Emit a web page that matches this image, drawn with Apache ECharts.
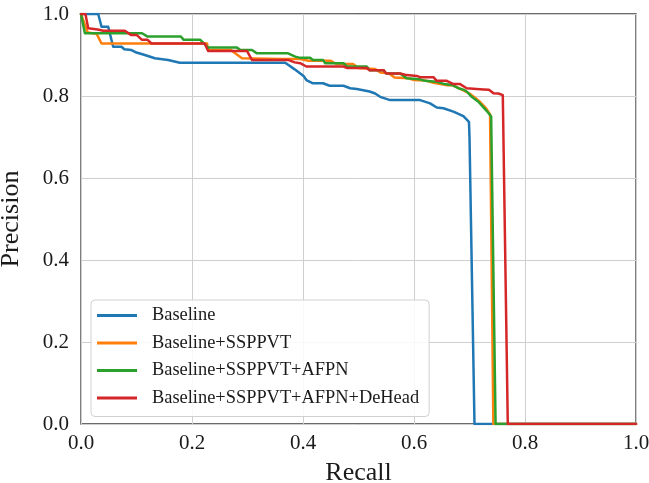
<!DOCTYPE html>
<html><head><meta charset="utf-8">
<script src="https://cdn.jsdelivr.net/npm/echarts/dist/echarts.min.js"></script>
<style>html,body{margin:0;padding:0;background:#fff}#c{width:649px;height:483px}</style>
</head><body><div id="c"></div><script>
const seriesNames = ['Baseline', 'Baseline+SSPPVT', 'Baseline+SSPPVT+AFPN', 'Baseline+SSPPVT+AFPN+DeHead'];
const seriesColors = ['#1f77b4', '#ff7f0e', '#2ca02c', '#d62728'];
const tickValues = [0.0, 0.2, 0.4, 0.6, 0.8, 1.0];

const baselineRecall = [0, 0.031, 0.037, 0.049, 0.058, 0.073, 0.078, 0.091, 0.100, 0.115, 0.133, 0.157, 0.178, 0.368, 0.385, 0.401, 0.406, 0.418, 0.436, 0.448, 0.473, 0.485, 0.497, 0.520, 0.530, 0.539, 0.557, 0.611, 0.629, 0.641, 0.653, 0.671, 0.689, 0.699, 0.700, 0.709, 1.0];
const baselinePrecision = [1.0, 1.0, 0.969, 0.969, 0.920, 0.920, 0.914, 0.912, 0.906, 0.900, 0.892, 0.888, 0.881, 0.881, 0.865, 0.849, 0.839, 0.831, 0.831, 0.825, 0.825, 0.819, 0.817, 0.811, 0.806, 0.798, 0.790, 0.790, 0.782, 0.772, 0.770, 0.762, 0.751, 0.737, 0.700, 0.0, 0.0];

const ssppvtRecall = [0, 0.012, 0.028, 0.037, 0.227, 0.229, 0.270, 0.290, 0.360, 0.395, 0.410, 0.450, 0.460, 0.490, 0.500, 0.530, 0.540, 0.555, 0.565, 0.590, 0.600, 0.620, 0.635, 0.660, 0.670, 0.680, 0.690, 0.700, 0.710, 0.720, 0.730, 0.737, 0.743, 1.0];
const ssppvtPrecision = [1.0, 0.955, 0.952, 0.928, 0.928, 0.913, 0.912, 0.892, 0.890, 0.890, 0.886, 0.886, 0.878, 0.878, 0.868, 0.866, 0.857, 0.855, 0.845, 0.843, 0.839, 0.838, 0.832, 0.826, 0.826, 0.820, 0.813, 0.806, 0.796, 0.784, 0.770, 0.755, 0.0, 0.0];

const afpnRecall = [0, 0.007, 0.110, 0.120, 0.180, 0.185, 0.215, 0.229, 0.281, 0.287, 0.308, 0.317, 0.373, 0.386, 0.395, 0.413, 0.418, 0.436, 0.440, 0.473, 0.479, 0.515, 0.520, 0.545, 0.550, 0.575, 0.587, 0.610, 0.620, 0.640, 0.655, 0.670, 0.680, 0.690, 0.695, 0.704, 0.716, 0.724, 0.732, 0.739, 0.747, 1.0];
const afpnPrecision = [1.0, 0.953, 0.953, 0.945, 0.945, 0.937, 0.937, 0.918, 0.918, 0.912, 0.912, 0.904, 0.904, 0.896, 0.893, 0.893, 0.888, 0.888, 0.880, 0.880, 0.872, 0.872, 0.863, 0.863, 0.855, 0.855, 0.843, 0.841, 0.837, 0.835, 0.829, 0.826, 0.819, 0.815, 0.811, 0.798, 0.786, 0.774, 0.762, 0.750, 0.0, 0.0];

const deheadRecall = [0, 0.008, 0.013, 0.030, 0.040, 0.079, 0.090, 0.100, 0.110, 0.120, 0.127, 0.223, 0.229, 0.299, 0.308, 0.373, 0.385, 0.395, 0.406, 0.473, 0.480, 0.515, 0.520, 0.545, 0.550, 0.575, 0.587, 0.605, 0.611, 0.635, 0.641, 0.659, 0.671, 0.683, 0.695, 0.725, 0.735, 0.743, 0.752, 0.760, 0.769, 1.0];
const deheadPrecision = [1.0, 1.0, 0.965, 0.962, 0.959, 0.959, 0.949, 0.949, 0.937, 0.937, 0.928, 0.928, 0.910, 0.910, 0.888, 0.888, 0.882, 0.880, 0.872, 0.872, 0.868, 0.868, 0.863, 0.863, 0.855, 0.855, 0.851, 0.849, 0.846, 0.846, 0.837, 0.837, 0.829, 0.829, 0.819, 0.816, 0.815, 0.807, 0.806, 0.802, 0.0, 0.0];

const recallLists = [baselineRecall, ssppvtRecall, afpnRecall, deheadRecall];
const precisionLists = [baselinePrecision, ssppvtPrecision, afpnPrecision, deheadPrecision];

const FONT = '"Liberation Serif", "DejaVu Serif", serif';
const chart = echarts.init(document.getElementById('c'), null, {renderer: 'canvas'});

const series = seriesNames.map((name, i) => ({
  name: name,
  type: 'line',
  showSymbol: false,
  symbol: 'none',
  data: recallLists[i].map((r, k) => [r, precisionLists[i][k]]),
  lineStyle: {width: 2.5, color: seriesColors[i], join: 'round', cap: 'round'},
  itemStyle: {color: seriesColors[i]},
  z: 3 + i
}));

const axisCommon = {
  type: 'value', min: 0, max: 1, interval: 0.2,
  axisLine: {show: false},
  axisTick: {show: false},
  splitLine: {show: true, lineStyle: {color: '#cfcfcf', width: 1}},
  axisLabel: {fontFamily: FONT, fontSize: 21, color: '#1a1a1a', formatter: v => v.toFixed(1), showMaxLabel: true, showMinLabel: true},
  nameTextStyle: {fontFamily: FONT, fontSize: 26, color: '#1a1a1a'}
};

chart.setOption({
  animation: false,
  backgroundColor: '#ffffff',
  grid: {left: 81, right: 13, top: 14, bottom: 59, containLabel: false, outerBoundsMode: 'none', show: true, borderColor: '#3a3a3a', borderWidth: 1.3, backgroundColor: 'transparent'},
  xAxis: Object.assign({}, axisCommon, {
    name: 'Recall', nameLocation: 'middle', nameGap: 36,
    axisLabel: Object.assign({}, axisCommon.axisLabel, {margin: 9})
  }),
  yAxis: Object.assign({}, axisCommon, {
    name: 'Precision', nameLocation: 'middle', nameGap: 57, nameRotate: 90,
    axisLabel: Object.assign({}, axisCommon.axisLabel, {margin: 12})
  }),
  legend: {
    orient: 'vertical', left: 91, top: 300,
    data: seriesNames,
    icon: 'rect',
    itemWidth: 40, itemHeight: 3, itemGap: 6.5,
    padding: [5, 10, 8, 6],
    borderColor: '#d0d0d0', borderWidth: 1, borderRadius: 4,
    backgroundColor: 'rgba(255,255,255,0.85)',
    textStyle: {fontFamily: FONT, fontSize: 18.4, color: '#1a1a1a', padding: [0, 0, 0, 10], lineHeight: 21}
  },
  series: series
});
</script></body></html>
